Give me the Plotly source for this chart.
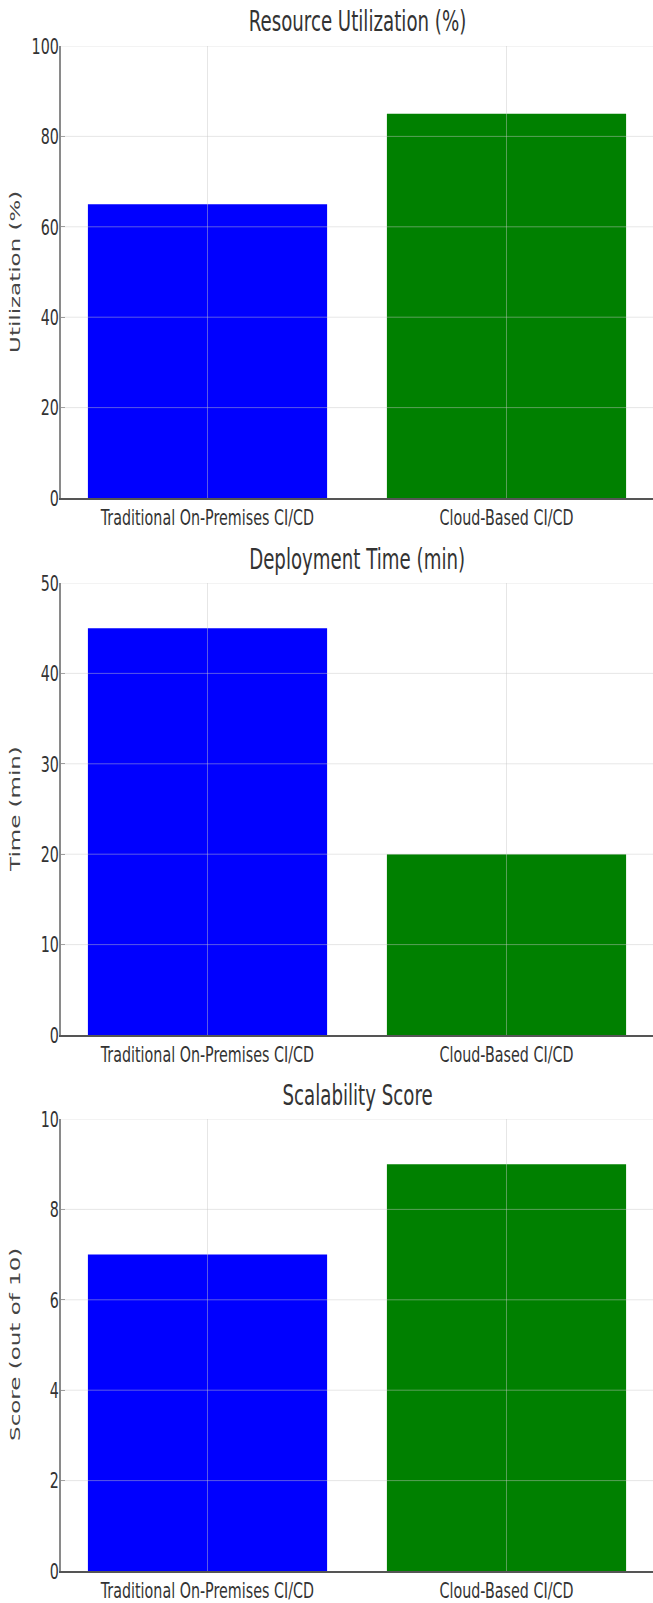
import plotly.graph_objects as go

# Data
categories = ["Traditional On-Premises CI/CD", "Cloud-Based CI/CD"]
utilization = [65, 85]
deploy_time = [45, 20]
scalability = [7, 9]

titles = ["Resource Utilization (%)", "Deployment Time (min)", "Scalability Score"]
y_titles = ["Utilization (%)", "Time (min)", "Score (out of 10)"]
y_ranges = [[0, 100], [0, 50], [0, 10]]
y_dticks = [20, 10, 2]
series = [utilization, deploy_time, scalability]
bar_colors = ["#0000ff", "#008000"]

W, H = 653, 1603
# panel pixel extents (top, bottom)
panels_px = [(46, 498), (583, 1035), (1119, 1571)]
x_left_px = 61

FONT = "DejaVu Sans, sans-serif"
TEXT_COLOR = "#333333"

fig = go.Figure()
layout = dict(
    width=W, height=H,
    margin=dict(l=0, r=0, t=0, b=0),
    paper_bgcolor="white", plot_bgcolor="white",
    showlegend=False,
)
annotations = []
shapes = []

for i in range(3):
    sfx = "" if i == 0 else str(i + 1)
    top, bot = panels_px[i]
    y0 = 1 - bot / H
    y1 = 1 - top / H
    fig.add_trace(go.Bar(
        x=categories, y=series[i], width=0.8,
        marker=dict(color=bar_colors, line=dict(width=0)),
        xaxis="x" + sfx, yaxis="y" + sfx, hoverinfo="x+y",
    ))
    layout["xaxis" + sfx] = dict(
        domain=[x_left_px / W, 1], anchor="y" + sfx,
        range=[-0.49, 1.49], type="category",
        showgrid=False, zeroline=False, automargin=False,
        showline=True, linecolor="#555555", linewidth=1.5,
        ticks="", ticklabelstandoff=-1,
        tickfont=dict(family=FONT, size=22, color=TEXT_COLOR),
        fixedrange=True,
    )
    layout["yaxis" + sfx] = dict(
        domain=[y0, y1], anchor="x" + sfx,
        range=y_ranges[i], dtick=y_dticks[i], tick0=0,
        showgrid=False, zeroline=False, automargin=False,
        showline=True, linecolor="#8a8a8a", linewidth=1.5,
        ticks="inside", ticklen=4, tickcolor="#8a8a8a", ticklabelstandoff=-4,
        tickfont=dict(family=FONT, size=22, color=TEXT_COLOR),
        fixedrange=True,
    )
    # light grid lines drawn over the bars
    yv = y_dticks[i]
    while yv <= y_ranges[i][1] + 1e-9:
        shapes.append(dict(type="line", xref="x" + sfx + " domain", yref="y" + sfx,
                           x0=0, x1=1, y0=yv, y1=yv, layer="above",
                           line=dict(color="rgba(200,200,200,0.45)", width=1)))
        yv += y_dticks[i]
    for c in categories:
        shapes.append(dict(type="line", xref="x" + sfx, yref="y" + sfx + " domain",
                           x0=c, x1=c, y0=0, y1=1, layer="above",
                           line=dict(color="rgba(200,200,200,0.45)", width=1)))
    # panel title
    annotations.append(dict(
        text=titles[i], xref="x" + sfx + " domain", yref="paper",
        x=0.5, y=1 - (top - 24) / H, xanchor="center", yanchor="middle",
        showarrow=False, font=dict(family=FONT, size=28, color=TEXT_COLOR),
    ))
    # y-axis title
    annotations.append(dict(
        text=y_titles[i], xref="paper", yref="paper",
        x=15 / W, y=(y0 + y1) / 2, xanchor="center", yanchor="middle",
        textangle=-90, showarrow=False,
        font=dict(family=FONT, size=23, color="#444444"),
    ))

layout["annotations"] = annotations
layout["shapes"] = shapes
fig.update_layout(**layout)

# Narrow every label horizontally (screen x) about its anchor point.
squeeze_js = """
var SX = 0.65;
var gd = document.getElementById('{plot_id}');
var texts = gd.querySelectorAll('svg text');
texts.forEach(function (t) {
  if (!t.textContent || !t.textContent.trim()) return;
  var r = t.getBoundingClientRect();
  if (r.width === 0 || r.height === 0) return;
  var parent = t.parentNode;
  var pm = parent.getScreenCTM();
  if (!pm) return;
  var M = new DOMMatrix([pm.a, pm.b, pm.c, pm.d, pm.e, pm.f]);
  var anchor = t.getAttribute('text-anchor') || getComputedStyle(t).textAnchor || 'start';
  var rotated = r.height > r.width * 1.5 && t.textContent.length > 3;
  var px;
  if (rotated || anchor === 'middle') px = r.left + r.width / 2;
  else if (anchor === 'end') px = r.right;
  else px = r.left;
  var py = r.top + r.height / 2;
  var S = new DOMMatrix().translate(px, py).scale(SX, 1).translate(-px, -py);
  var L = M.inverse().multiply(S).multiply(M);
  var old = t.getAttribute('transform') || '';
  t.setAttribute('transform', 'matrix(' + [L.a, L.b, L.c, L.d, L.e, L.f].join(',') + ') ' + old);
});
"""

fig.write_html("out.html", post_script=squeeze_js)
